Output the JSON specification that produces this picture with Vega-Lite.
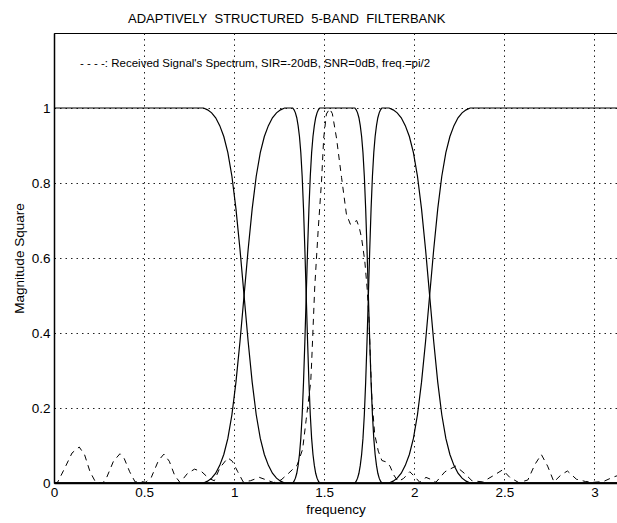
{
"$schema": "https://vega.github.io/schema/vega-lite/v6.json",
"width": 563, "height": 450,
"autosize": {"type": "none"},
"padding": {"left": 54, "top": 33, "right": 0, "bottom": 40},
"background": "white",
"title": {"text": "ADAPTIVELY\u00a0 STRUCTURED\u00a0 5-BAND\u00a0 FILTERBANK", "anchor": "start", "frame": "group", "dx": 74, "dy": 15, "fontSize": 13, "fontWeight": "normal", "font": "Liberation Sans", "color": "black", "baseline": "alphabetic", "offset": 12},
"config": {"view": {"stroke": "black", "strokeWidth": 1}},
"datasets": {
"filters": [
{"x":0,"F1":1,"F2":0,"F3":0,"F4":0,"F5":0},
{"x":0.83,"F1":1,"F2":0,"F3":0,"F4":0,"F5":0},
{"x":0.8525,"F1":0.995,"F2":0.005,"F3":0,"F4":0,"F5":0},
{"x":0.875,"F1":0.987,"F2":0.013,"F3":0,"F4":0,"F5":0},
{"x":0.8975,"F1":0.974,"F2":0.026,"F3":0,"F4":0,"F5":0},
{"x":0.92,"F1":0.953,"F2":0.047,"F3":0,"F4":0,"F5":0},
{"x":0.9425,"F1":0.924,"F2":0.076,"F3":0,"F4":0,"F5":0},
{"x":0.965,"F1":0.881,"F2":0.119,"F3":0,"F4":0,"F5":0},
{"x":0.9875,"F1":0.818,"F2":0.182,"F3":0,"F4":0,"F5":0},
{"x":1.01,"F1":0.731,"F2":0.269,"F3":0,"F4":0,"F5":0},
{"x":1.0325,"F1":0.622,"F2":0.378,"F3":0,"F4":0,"F5":0},
{"x":1.055,"F1":0.5,"F2":0.5,"F3":0,"F4":0,"F5":0},
{"x":1.0775,"F1":0.378,"F2":0.622,"F3":0,"F4":0,"F5":0},
{"x":1.1,"F1":0.269,"F2":0.731,"F3":0,"F4":0,"F5":0},
{"x":1.1225,"F1":0.182,"F2":0.818,"F3":0,"F4":0,"F5":0},
{"x":1.145,"F1":0.119,"F2":0.881,"F3":0,"F4":0,"F5":0},
{"x":1.1675,"F1":0.076,"F2":0.924,"F3":0,"F4":0,"F5":0},
{"x":1.19,"F1":0.047,"F2":0.953,"F3":0,"F4":0,"F5":0},
{"x":1.2125,"F1":0.026,"F2":0.974,"F3":0,"F4":0,"F5":0},
{"x":1.235,"F1":0.013,"F2":0.987,"F3":0,"F4":0,"F5":0},
{"x":1.2575,"F1":0.005,"F2":0.995,"F3":0,"F4":0,"F5":0},
{"x":1.28,"F1":0,"F2":1,"F3":0,"F4":0,"F5":0},
{"x":1.325,"F1":0,"F2":1,"F3":0,"F4":0,"F5":0},
{"x":1.3325,"F1":0,"F2":0.995,"F3":0.005,"F4":0,"F5":0},
{"x":1.34,"F1":0,"F2":0.987,"F3":0.013,"F4":0,"F5":0},
{"x":1.3475,"F1":0,"F2":0.974,"F3":0.026,"F4":0,"F5":0},
{"x":1.355,"F1":0,"F2":0.953,"F3":0.047,"F4":0,"F5":0},
{"x":1.3625,"F1":0,"F2":0.924,"F3":0.076,"F4":0,"F5":0},
{"x":1.37,"F1":0,"F2":0.881,"F3":0.119,"F4":0,"F5":0},
{"x":1.3775,"F1":0,"F2":0.818,"F3":0.182,"F4":0,"F5":0},
{"x":1.385,"F1":0,"F2":0.731,"F3":0.269,"F4":0,"F5":0},
{"x":1.3925,"F1":0,"F2":0.622,"F3":0.378,"F4":0,"F5":0},
{"x":1.4,"F1":0,"F2":0.5,"F3":0.5,"F4":0,"F5":0},
{"x":1.4075,"F1":0,"F2":0.378,"F3":0.622,"F4":0,"F5":0},
{"x":1.415,"F1":0,"F2":0.269,"F3":0.731,"F4":0,"F5":0},
{"x":1.4225,"F1":0,"F2":0.182,"F3":0.818,"F4":0,"F5":0},
{"x":1.43,"F1":0,"F2":0.119,"F3":0.881,"F4":0,"F5":0},
{"x":1.4375,"F1":0,"F2":0.076,"F3":0.924,"F4":0,"F5":0},
{"x":1.445,"F1":0,"F2":0.047,"F3":0.953,"F4":0,"F5":0},
{"x":1.4525,"F1":0,"F2":0.026,"F3":0.974,"F4":0,"F5":0},
{"x":1.46,"F1":0,"F2":0.013,"F3":0.987,"F4":0,"F5":0},
{"x":1.4675,"F1":0,"F2":0.005,"F3":0.995,"F4":0,"F5":0},
{"x":1.475,"F1":0,"F2":0,"F3":1,"F4":0,"F5":0},
{"x":1.67,"F1":0,"F2":0,"F3":1,"F4":0,"F5":0},
{"x":1.6775,"F1":0,"F2":0,"F3":0.995,"F4":0.005,"F5":0},
{"x":1.685,"F1":0,"F2":0,"F3":0.987,"F4":0.013,"F5":0},
{"x":1.6925,"F1":0,"F2":0,"F3":0.974,"F4":0.026,"F5":0},
{"x":1.7,"F1":0,"F2":0,"F3":0.953,"F4":0.047,"F5":0},
{"x":1.7075,"F1":0,"F2":0,"F3":0.924,"F4":0.076,"F5":0},
{"x":1.715,"F1":0,"F2":0,"F3":0.881,"F4":0.119,"F5":0},
{"x":1.7225,"F1":0,"F2":0,"F3":0.818,"F4":0.182,"F5":0},
{"x":1.73,"F1":0,"F2":0,"F3":0.731,"F4":0.269,"F5":0},
{"x":1.7375,"F1":0,"F2":0,"F3":0.622,"F4":0.378,"F5":0},
{"x":1.745,"F1":0,"F2":0,"F3":0.5,"F4":0.5,"F5":0},
{"x":1.7525,"F1":0,"F2":0,"F3":0.378,"F4":0.622,"F5":0},
{"x":1.76,"F1":0,"F2":0,"F3":0.269,"F4":0.731,"F5":0},
{"x":1.7675,"F1":0,"F2":0,"F3":0.182,"F4":0.818,"F5":0},
{"x":1.775,"F1":0,"F2":0,"F3":0.119,"F4":0.881,"F5":0},
{"x":1.7825,"F1":0,"F2":0,"F3":0.076,"F4":0.924,"F5":0},
{"x":1.79,"F1":0,"F2":0,"F3":0.047,"F4":0.953,"F5":0},
{"x":1.7975,"F1":0,"F2":0,"F3":0.026,"F4":0.974,"F5":0},
{"x":1.805,"F1":0,"F2":0,"F3":0.013,"F4":0.987,"F5":0},
{"x":1.8125,"F1":0,"F2":0,"F3":0.005,"F4":0.995,"F5":0},
{"x":1.82,"F1":0,"F2":0,"F3":0,"F4":1,"F5":0},
{"x":1.86,"F1":0,"F2":0,"F3":0,"F4":1,"F5":0},
{"x":1.8825,"F1":0,"F2":0,"F3":0,"F4":0.995,"F5":0.005},
{"x":1.905,"F1":0,"F2":0,"F3":0,"F4":0.987,"F5":0.013},
{"x":1.9275,"F1":0,"F2":0,"F3":0,"F4":0.974,"F5":0.026},
{"x":1.95,"F1":0,"F2":0,"F3":0,"F4":0.953,"F5":0.047},
{"x":1.9725,"F1":0,"F2":0,"F3":0,"F4":0.924,"F5":0.076},
{"x":1.995,"F1":0,"F2":0,"F3":0,"F4":0.881,"F5":0.119},
{"x":2.0175,"F1":0,"F2":0,"F3":0,"F4":0.818,"F5":0.182},
{"x":2.04,"F1":0,"F2":0,"F3":0,"F4":0.731,"F5":0.269},
{"x":2.0625,"F1":0,"F2":0,"F3":0,"F4":0.622,"F5":0.378},
{"x":2.085,"F1":0,"F2":0,"F3":0,"F4":0.5,"F5":0.5},
{"x":2.1075,"F1":0,"F2":0,"F3":0,"F4":0.378,"F5":0.622},
{"x":2.13,"F1":0,"F2":0,"F3":0,"F4":0.269,"F5":0.731},
{"x":2.1525,"F1":0,"F2":0,"F3":0,"F4":0.182,"F5":0.818},
{"x":2.175,"F1":0,"F2":0,"F3":0,"F4":0.119,"F5":0.881},
{"x":2.1975,"F1":0,"F2":0,"F3":0,"F4":0.076,"F5":0.924},
{"x":2.22,"F1":0,"F2":0,"F3":0,"F4":0.047,"F5":0.953},
{"x":2.2425,"F1":0,"F2":0,"F3":0,"F4":0.026,"F5":0.974},
{"x":2.265,"F1":0,"F2":0,"F3":0,"F4":0.013,"F5":0.987},
{"x":2.2875,"F1":0,"F2":0,"F3":0,"F4":0.005,"F5":0.995},
{"x":2.31,"F1":0,"F2":0,"F3":0,"F4":0,"F5":1},
{"x":3.1416,"F1":0,"F2":0,"F3":0,"F4":0,"F5":1}
],
"signal": [
{"x":0,"y":0},{"x":0.02,"y":0.002},{"x":0.06,"y":0.04},{"x":0.1,"y":0.08},{"x":0.14,"y":0.096},{"x":0.17,"y":0.075},{"x":0.2,"y":0.03},{"x":0.23,"y":0.003},{"x":0.27,"y":0},{"x":0.29,"y":0.012},{"x":0.33,"y":0.058},{"x":0.366,"y":0.078},{"x":0.39,"y":0.065},{"x":0.42,"y":0.03},{"x":0.45,"y":0.003},{"x":0.48,"y":0.004},{"x":0.51,"y":0.002},{"x":0.54,"y":0.015},{"x":0.58,"y":0.06},{"x":0.61,"y":0.077},{"x":0.64,"y":0.058},{"x":0.67,"y":0.02},{"x":0.7,"y":0.001},{"x":0.74,"y":0.025},{"x":0.78,"y":0.037},{"x":0.82,"y":0.03},{"x":0.86,"y":0.012},{"x":0.89,"y":0.006},{"x":0.92,"y":0.04},{"x":0.965,"y":0.067},{"x":0.99,"y":0.058},{"x":1.02,"y":0.03},{"x":1.05,"y":0.003},{"x":1.09,"y":0.006},{"x":1.14,"y":0.015},{"x":1.18,"y":0.008},{"x":1.22,"y":0.001},{"x":1.26,"y":0.008},{"x":1.3,"y":0.025},{"x":1.35,"y":0.048},{"x":1.38,"y":0.09},{"x":1.4,"y":0.17},{"x":1.425,"y":0.27},{"x":1.43,"y":0.32},{"x":1.447,"y":0.52},{"x":1.466,"y":0.672},{"x":1.485,"y":0.805},{"x":1.497,"y":0.92},{"x":1.512,"y":0.984},{"x":1.53,"y":0.998},{"x":1.545,"y":0.985},{"x":1.568,"y":0.92},{"x":1.596,"y":0.815},{"x":1.623,"y":0.717},{"x":1.645,"y":0.69},{"x":1.665,"y":0.695},{"x":1.68,"y":0.7},{"x":1.695,"y":0.68},{"x":1.707,"y":0.654},{"x":1.725,"y":0.592},{"x":1.738,"y":0.52},{"x":1.749,"y":0.432},{"x":1.757,"y":0.317},{"x":1.765,"y":0.22},{"x":1.78,"y":0.13},{"x":1.8,"y":0.085},{"x":1.82,"y":0.06},{"x":1.845,"y":0.056},{"x":1.865,"y":0.045},{"x":1.885,"y":0.022},{"x":1.91,"y":0.004},{"x":1.94,"y":0.012},{"x":1.975,"y":0.03},{"x":2.0,"y":0.018},{"x":2.03,"y":0.002},{"x":2.065,"y":0.015},{"x":2.09,"y":0.01},{"x":2.12,"y":0.002},{"x":2.17,"y":0.03},{"x":2.23,"y":0.045},{"x":2.28,"y":0.025},{"x":2.32,"y":0.006},{"x":2.38,"y":0.003},{"x":2.44,"y":0.02},{"x":2.49,"y":0.035},{"x":2.53,"y":0.015},{"x":2.58,"y":0.001},{"x":2.63,"y":0.008},{"x":2.67,"y":0.05},{"x":2.705,"y":0.076},{"x":2.74,"y":0.045},{"x":2.775,"y":0.003},{"x":2.815,"y":0.022},{"x":2.85,"y":0.032},{"x":2.9,"y":0.01},{"x":2.95,"y":0.004},{"x":3.0,"y":0.002},{"x":3.05,"y":0.004},{"x":3.1,"y":0.015},{"x":3.13,"y":0.02}
],
"note": [
{"x":0.144,"y":1.109,"label":"- - - -: Received Signal's Spectrum, SIR=-20dB, SNR=0dB, freq.=pi/2"}
]
},
"encoding": {
"x": {"field": "x", "type": "quantitative", "scale": {"domain": [0, 3.125], "nice": false, "zero": false},
 "axis": {"values": [0,0.5,1,1.5,2,2.5,3], "format": "~g", "grid": true, "gridDash": [1.5,4], "gridColor": "#222", "gridWidth": 1, "ticks": false, "domainColor": "black", "domainWidth": 1.5, "labelFont": "Liberation Sans", "labelFontSize": 13.5, "labelColor": "black", "labelPadding": 2, "labelFlush": false, "title": "frequency", "titleFont": "Liberation Sans", "titleFontWeight": "normal", "titleFontSize": 13.5, "titleColor": "black", "titlePadding": 4}},
"y": {"field": "y", "type": "quantitative", "scale": {"domain": [0, 1.2], "nice": false},
 "axis": {"values": [0,0.2,0.4,0.6,0.8,1], "format": "~g", "grid": true, "gridDash": [1.5,4], "gridColor": "#222", "gridWidth": 1, "ticks": false, "domainColor": "black", "domainWidth": 1.5, "labelFont": "Liberation Sans", "labelFontSize": 13.5, "labelColor": "black", "labelPadding": 4, "labelFlush": false, "title": "Magnitude Square", "titleFont": "Liberation Sans", "titleFontWeight": "normal", "titleFontSize": 13.5, "titleColor": "black", "titlePadding": 5}}
},
"layer": [
{"data": {"name": "filters"},
 "transform": [{"fold": ["F1","F2","F3","F4","F5"], "as": ["band","y"]}],
 "mark": {"type": "line", "color": "black", "strokeWidth": 1.2, "clip": true},
 "encoding": {"detail": {"field": "band", "type": "nominal"}}},
{"data": {"name": "signal"},
 "mark": {"type": "line", "color": "black", "strokeWidth": 1, "strokeDash": [6,5], "clip": true},
 "encoding": {}},
{"data": {"name": "note"},
 "mark": {"type": "text", "align": "left", "baseline": "alphabetic", "font": "Liberation Sans", "fontSize": 11.5, "color": "black"},
 "encoding": {"text": {"field": "label"}}}
]
}
